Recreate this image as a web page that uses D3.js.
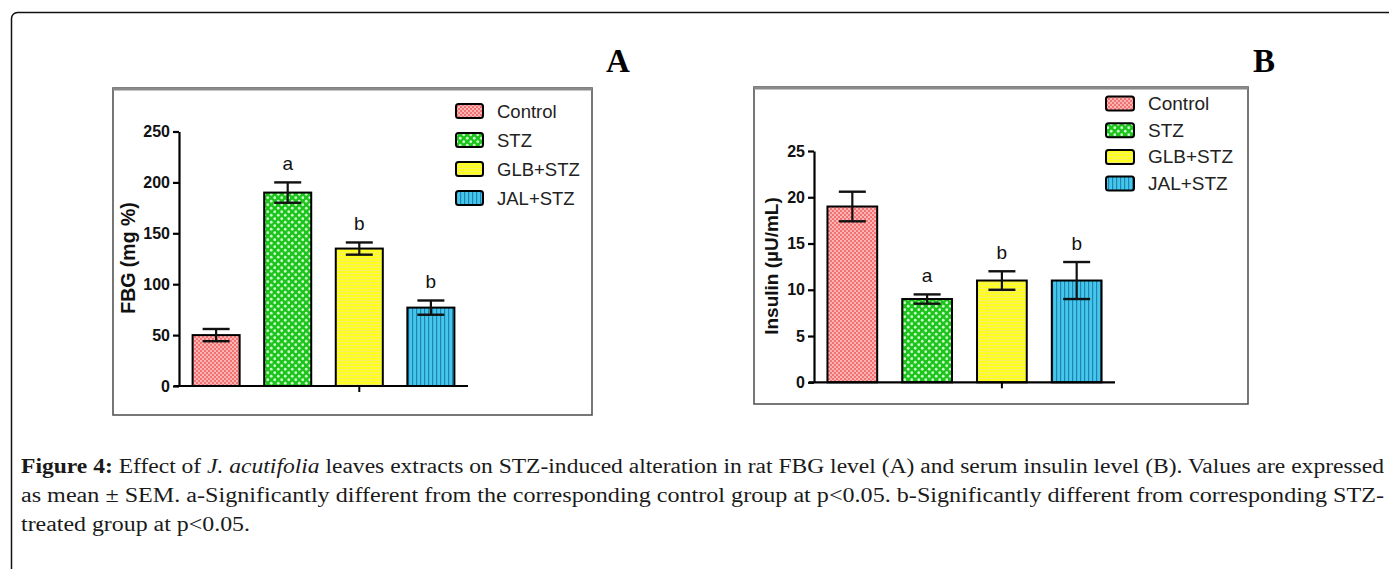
<!DOCTYPE html>
<html>
<head>
<meta charset="utf-8">
<script src="https://cdn.jsdelivr.net/npm/d3@7"></script>
<style>
  html, body { margin: 0; padding: 0; background: #fff; }
  svg { display: block; }
</style>
</head>
<body>
<svg id="chart" width="1389" height="569"></svg>
<script>
// ---------- data ----------
const categories = ["Control", "STZ", "GLB+STZ", "JAL+STZ"];
const fbgMeans = [50, 190, 135, 77];
const fbgSem = [6, 10, 6, 7];
const fbgLetters = ["", "a", "b", "b"];
const fbgTicks = [0, 50, 100, 150, 200, 250];
const insulinMeans = [19, 9, 11, 11];
const insulinSem = [1.6, 0.5, 1, 2];
const insulinLetters = ["", "a", "b", "b"];
const insulinTicks = [0, 5, 10, 15, 20, 25];
const panelLabels = ["A", "B"];
const yTitles = ["FBG (mg %)", "Insulin (\u00b5U/mL)"];
const captionLines = [
  [{t: "Figure 4:", b: true}, {t: " Effect of "}, {t: "J. acutifolia", i: true}, {t: " leaves extracts on STZ-induced alteration in rat FBG level (A) and serum insulin level (B). Values are expressed"}],
  [{t: "as mean \u00b1 SEM. a-Significantly different from the corresponding control group at p<0.05. b-Significantly different from corresponding STZ-"}],
  [{t: "treated group at p<0.05."}]
];

const svg = d3.select("#chart");
const defs = svg.append("defs");

// ---------- fill patterns ----------
const pc = defs.append("pattern").attr("id", "p0").attr("patternUnits", "userSpaceOnUse").attr("width", 4).attr("height", 4);
pc.append("rect").attr("width", 4).attr("height", 4).attr("fill", "#f07272");
pc.append("rect").attr("width", 2).attr("height", 2).attr("fill", "#ffb4b4");
pc.append("rect").attr("x", 2).attr("y", 2).attr("width", 2).attr("height", 2).attr("fill", "#ffb4b4");

const ps = defs.append("pattern").attr("id", "p1").attr("patternUnits", "userSpaceOnUse").attr("width", 7).attr("height", 7);
ps.append("rect").attr("width", 7).attr("height", 7).attr("fill", "#1cc41c");
ps.append("circle").attr("cx", 1.75).attr("cy", 1.75).attr("r", 1.4).attr("fill", "#c8f8c8");
ps.append("circle").attr("cx", 5.25).attr("cy", 5.25).attr("r", 1.4).attr("fill", "#c8f8c8");

const pg = defs.append("pattern").attr("id", "p2").attr("patternUnits", "userSpaceOnUse").attr("width", 4).attr("height", 3);
pg.append("rect").attr("width", 4).attr("height", 3).attr("fill", "#ffff1e");
pg.append("rect").attr("width", 4).attr("height", 1).attr("fill", "#f4ee6a");

const pj = defs.append("pattern").attr("id", "p3").attr("patternUnits", "userSpaceOnUse").attr("width", 4).attr("height", 4);
pj.append("rect").attr("width", 4).attr("height", 4).attr("fill", "#46c6ea");
pj.append("rect").attr("width", 1.2).attr("height", 4).attr("fill", "#1d84b4");

const fills = ["url(#p0)", "url(#p1)", "url(#p2)", "url(#p3)"];

// ---------- outer frame ----------
svg.append("rect")
  .attr("x", 11.5).attr("y", 12.5).attr("width", 1400).attr("height", 600)
  .attr("rx", 6).attr("fill", "none").attr("stroke", "#111").attr("stroke-width", 1.5);

// ---------- panel drawing ----------
function drawPanel(cfg) {
  const g = svg.append("g");
  // image box
  g.append("rect")
    .attr("x", cfg.box[0]).attr("y", cfg.box[1])
    .attr("width", cfg.box[2] - cfg.box[0]).attr("height", cfg.box[3] - cfg.box[1])
    .attr("fill", "#fff").attr("stroke", "#555").attr("stroke-width", 1.6);
  g.append("line")
    .attr("x1", cfg.box[0]).attr("x2", cfg.box[2])
    .attr("y1", cfg.box[1] + 1).attr("y2", cfg.box[1] + 1)
    .attr("stroke", "#8a8a8a").attr("stroke-width", 3);

  // panel letter
  g.append("text")
    .attr("x", cfg.letterPos[0]).attr("y", cfg.letterPos[1])
    .attr("text-anchor", "middle")
    .style("font-family", "'Liberation Serif', serif").style("font-weight", "bold")
    .style("font-size", "33px").text(cfg.letter);

  const y = d3.scaleLinear().domain([0, d3.max(cfg.ticks)]).range([cfg.y0, cfg.yTop]);
  const x = d3.scaleBand().domain(categories).range([cfg.xAxis, cfg.xEnd])
    .paddingInner(cfg.padIn).paddingOuter(cfg.padOut);

  // bars
  g.selectAll(".bar").data(categories).join("rect")
    .attr("x", d => x(d)).attr("width", x.bandwidth())
    .attr("y", (d, i) => y(cfg.means[i]))
    .attr("height", (d, i) => y(0) - y(cfg.means[i]))
    .attr("fill", (d, i) => fills[i])
    .attr("stroke", "#000").attr("stroke-width", 2);

  // error bars
  const capW = 27;
  categories.forEach((c, i) => {
    const cx = x(c) + x.bandwidth() / 2;
    const hi = y(cfg.means[i] + cfg.sem[i]);
    const lo = y(cfg.means[i] - cfg.sem[i]);
    g.append("line").attr("x1", cx).attr("x2", cx).attr("y1", hi).attr("y2", lo)
      .attr("stroke", "#111").attr("stroke-width", 2.2);
    [hi, lo].forEach(yy => g.append("line")
      .attr("x1", cx - capW / 2).attr("x2", cx + capW / 2).attr("y1", yy).attr("y2", yy)
      .attr("stroke", "#111").attr("stroke-width", 2.4));
    if (cfg.letters[i]) {
      g.append("text").attr("x", cx).attr("y", hi - 12)
        .attr("text-anchor", "middle")
        .style("font-family", "'Liberation Sans', Arial, sans-serif")
        .style("font-size", "19px").style("fill", "#111")
        .text(cfg.letters[i]);
    }
  });

  // y axis
  const yAxis = d3.axisLeft(y).tickValues(cfg.ticks).tickSize(6).tickSizeOuter(0).tickPadding(3);
  const ya = g.append("g").attr("transform", `translate(${cfg.xAxis},0)`).call(yAxis);
  ya.selectAll("path, line").attr("stroke", "#000").attr("stroke-width", 2.2);
  ya.selectAll("text")
    .style("font-family", "'Liberation Sans', Arial, sans-serif")
    .style("font-weight", "bold").style("font-size", "16px").attr("fill", "#111");

  // x axis line with single centre tick
  g.append("line").attr("x1", cfg.xAxis - 5).attr("x2", cfg.xEnd)
    .attr("y1", y(0)).attr("y2", y(0)).attr("stroke", "#000").attr("stroke-width", 2.2);
  const tx = x(categories[2]) + x.bandwidth() / 2;
  g.append("line").attr("x1", tx).attr("x2", tx)
    .attr("y1", y(0)).attr("y2", y(0) + 6).attr("stroke", "#000").attr("stroke-width", 2);

  // y title
  g.append("text")
    .attr("transform", `translate(${cfg.titlePos[0]},${cfg.titlePos[1]}) rotate(-90)`)
    .attr("text-anchor", "middle")
    .style("font-family", "'Liberation Sans', Arial, sans-serif")
    .style("font-weight", "bold").style("font-size", cfg.titleSize + "px").attr("fill", "#111")
    .text(cfg.title);

  // legend
  const lg = g.append("g");
  categories.forEach((c, i) => {
    const cy = cfg.legY + i * cfg.legStep;
    lg.append("rect").attr("x", cfg.legX).attr("y", cy - 7)
      .attr("width", cfg.legW).attr("height", 14).attr("rx", 2.5)
      .attr("fill", fills[i]).attr("stroke", "#000").attr("stroke-width", 2);
    lg.append("text").attr("x", cfg.legX + cfg.legW + 14).attr("y", cy + 6.5)
      .style("font-family", "'Liberation Sans', Arial, sans-serif")
      .style("font-size", cfg.legSize + "px").attr("fill", "#222")
      .text(c);
  });
}

drawPanel({
  box: [113, 88, 592, 415], letter: panelLabels[0], letterPos: [618, 72],
  means: fbgMeans, sem: fbgSem, letters: fbgLetters, ticks: fbgTicks,
  y0: 386, yTop: 131.5, xAxis: 179, xEnd: 468, padIn: 0.343, padOut: 0.19,
  title: yTitles[0], titlePos: [135, 258], titleSize: 19.5,
  legX: 456, legW: 27, legY: 111, legStep: 29, legSize: 18.5
});

drawPanel({
  box: [754, 87, 1248, 404], letter: panelLabels[1], letterPos: [1264, 72],
  means: insulinMeans, sem: insulinSem, letters: insulinLetters, ticks: insulinTicks,
  y0: 382.3, yTop: 151, xAxis: 814, xEnd: 1115, padIn: 0.335, padOut: 0.18,
  title: yTitles[1], titlePos: [778, 266], titleSize: 19,
  legX: 1106, legW: 28, legY: 103.5, legStep: 26.7, legSize: 19
});

// ---------- caption ----------
const capBase = [472.7, 501.7, 530.5];
const capTargets = [1363, 1363, null];
const capX = 21;
captionLines.forEach((line, li) => {
  const t = svg.append("text").attr("x", capX).attr("y", capBase[li])
    .style("font-family", "'Liberation Serif', 'DejaVu Serif', serif")
    .style("font-size", "20px").attr("fill", "#1a1a1a")
    .attr("xml:space", "preserve");
  line.forEach(seg => {
    t.append("tspan").text(seg.t)
      .style("font-weight", seg.b ? "bold" : "normal")
      .style("font-style", seg.i ? "italic" : "normal");
  });
  if (capTargets[li]) {
    t.attr("textLength", capTargets[li]).attr("lengthAdjust", "spacingAndGlyphs");
  } else {
    // keep the same horizontal compression as the full lines
    const ref = svg.selectAll("text").filter(function() { return +d3.select(this).attr("y") === capBase[1]; }).node();
    t.attr("textLength", 229).attr("lengthAdjust", "spacingAndGlyphs");
  }
});
</script>
</body>
</html>
